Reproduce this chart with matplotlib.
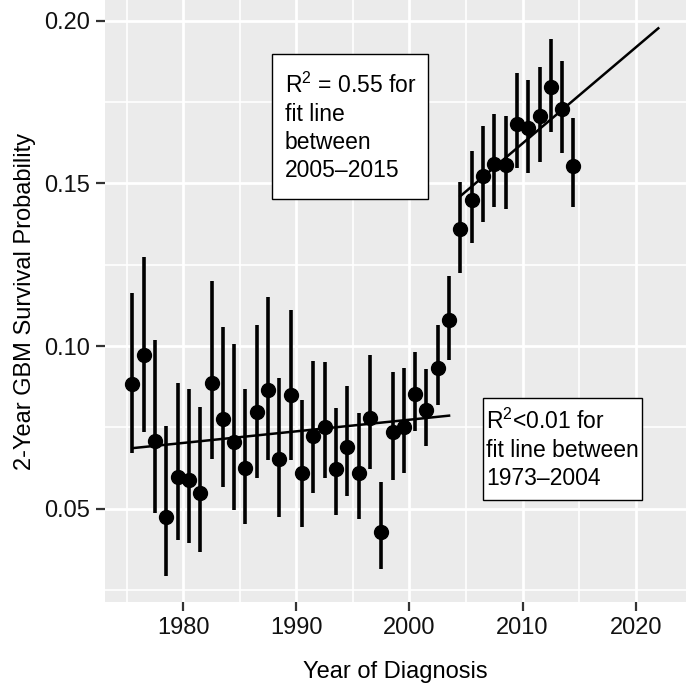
import matplotlib
matplotlib.use("Agg")
import matplotlib.pyplot as plt
from matplotlib.patches import Rectangle
import numpy as np

# survival estimate per diagnosis year, with 95% interval
years = np.arange(1975, 2015)
surv = [0.0883, 0.0971, 0.0708, 0.0473, 0.0598, 0.0588, 0.0549, 0.0886, 0.0776, 0.0706,
        0.0626, 0.0798, 0.0865, 0.0652, 0.0850, 0.0609, 0.0724, 0.0752, 0.0621, 0.0689,
        0.0611, 0.0780, 0.0429, 0.0736, 0.0752, 0.0853, 0.0804, 0.0934, 0.1080, 0.1359,
        0.1449, 0.1523, 0.1561, 0.1558, 0.1684, 0.1669, 0.1707, 0.1795, 0.1730, 0.1555]
lower = [0.0672, 0.0737, 0.0488, 0.0293, 0.0404, 0.0393, 0.0366, 0.0652, 0.0568, 0.0496,
         0.0452, 0.0593, 0.0650, 0.0473, 0.0650, 0.0445, 0.0547, 0.0593, 0.0479, 0.0540,
         0.0467, 0.0623, 0.0314, 0.0588, 0.0609, 0.0740, 0.0693, 0.0819, 0.0957, 0.1224,
         0.1316, 0.1382, 0.1428, 0.1421, 0.1546, 0.1531, 0.1567, 0.1659, 0.1594, 0.1426]
upper = [0.1164, 0.1275, 0.1019, 0.0755, 0.0886, 0.0868, 0.0814, 0.1201, 0.1060, 0.1006,
         0.0869, 0.1065, 0.1152, 0.0903, 0.1111, 0.0834, 0.0955, 0.0950, 0.0809, 0.0877,
         0.0793, 0.0973, 0.0582, 0.0921, 0.0934, 0.0981, 0.0929, 0.1065, 0.1216, 0.1505,
         0.1599, 0.1676, 0.1712, 0.1707, 0.1840, 0.1818, 0.1857, 0.1943, 0.1876, 0.1700]

# fitted trend lines (end points)
fit1_x = [1975.5, 2003.5]
fit1_y = [0.0686, 0.0786]
fit2_x = [2004.5, 2022.0]
fit2_y = [0.1461, 0.1977]

label1 = "$\\mathregular{R^2}$ = 0.55 for\nfit line\nbetween\n2005\u20132015"
label2 = "$\\mathregular{R^2}$<0.01 for\nfit line between\n1973\u20132004"

plt.rcParams['font.family'] = ['Liberation Sans', 'DejaVu Sans']
plt.rcParams['mathtext.fontset'] = 'custom'
plt.rcParams['mathtext.rm'] = 'Liberation Sans'

fig = plt.figure(figsize=(6.86, 6.84), dpi=100)
ax = fig.add_axes([105 / 686, 1 - 602 / 684, 581 / 686, 602 / 684])
ax.set_facecolor('#EBEBEB')
for s in ax.spines.values():
    s.set_visible(False)

x = years + 0.5
ax.vlines(x, lower, upper, color='black', lw=2.6, zorder=3)
ax.plot(x, surv, 'o', color='black', ms=10, zorder=4)
ax.plot(fit1_x, fit1_y, color='black', lw=1.8, zorder=5)
ax.plot(fit2_x, fit2_y, color='black', lw=1.8, zorder=5)

ax.set_xlim(1973.08, 2024.45)
ax.set_ylim(0.0213, 0.2064)
ax.set_xticks([1980, 1990, 2000, 2010, 2020])
ax.set_xticks([1975, 1985, 1995, 2005, 2015], minor=True)
ax.set_yticks([0.05, 0.10, 0.15, 0.20])
ax.set_yticklabels(['0.05', '0.10', '0.15', '0.20'])
ax.set_yticks([0.025, 0.075, 0.125, 0.175], minor=True)
ax.grid(True, which='major', color='white', lw=2.0, zorder=0)
ax.grid(True, which='minor', color='white', lw=1.2, zorder=0)
ax.set_axisbelow(True)
ax.tick_params(which='major', length=6.5, width=1.6, color='#333333',
               labelsize=17, labelcolor='#111111', pad=4)
ax.tick_params(which='minor', length=0)

ax.set_xlabel('Year of Diagnosis', fontsize=17, labelpad=16)
ax.set_ylabel('2-Year GBM Survival Probability', fontsize=17, labelpad=6)

# annotation boxes
ax.add_patch(Rectangle((0.2874, 0.6694), 0.2685, 0.2409, transform=ax.transAxes,
                       fc='white', ec='black', lw=1.0, zorder=6))
ax.text(0.3098, 0.8790, label1, transform=ax.transAxes, fontsize=16.5,
        va='top', ha='left', linespacing=1.27, zorder=7)
ax.add_patch(Rectangle((0.6501, 0.1694), 0.2737, 0.1690, transform=ax.transAxes,
                       fc='white', ec='black', lw=1.0, zorder=6))
ax.text(0.6558, 0.3210, label2, transform=ax.transAxes, fontsize=16.5,
        va='top', ha='left', linespacing=1.27, zorder=7)

fig.savefig('out.png', dpi=100)
